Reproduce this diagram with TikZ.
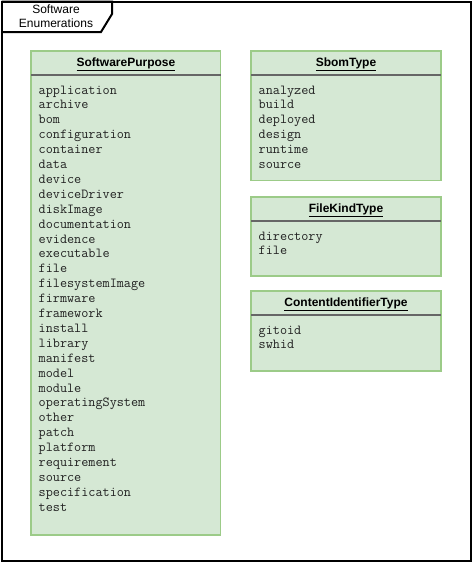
\documentclass[tikz,border=0pt]{standalone}
\usepackage{fontspec}
\setmainfont{Liberation Sans}
\definecolor{enumfill}{HTML}{D5E8D4}
\definecolor{enumline}{HTML}{9CCB88}
\definecolor{sepline}{HTML}{666666}
\definecolor{itemtext}{HTML}{222222}
\begin{document}
\begin{tikzpicture}[x=1pt,y=-1pt,
  frame/.style={draw=black,line width=2pt},
  enumbox/.style={draw=enumline,fill=enumfill,line width=1.2pt},
  sep/.style={draw=sepline,line width=1.4pt},
  title/.style={font=\fontsize{12}{14}\selectfont\bfseries,anchor=base,inner sep=0pt},
  item/.style={font=\fontsize{13.8}{14}\ttfamily,text=itemtext,anchor=base west,inner sep=0pt},
  tabtext/.style={font=\fontsize{12}{14}\selectfont,anchor=base,inner sep=0pt}]
\useasboundingbox (0,0) rectangle (473,563);
% package frame with its name tab
\draw[frame] (1.5,1.5) rectangle (470.5,561);
\draw[frame,line join=miter] (1.5,1.5) -- (112,1.5) -- (112,14) -- (101,32) -- (1.5,32);
\node[tabtext] (tab1) at (56,13) {Software};
\node[tabtext] (tab2) at (56,27.5) {Enumerations};

% SoftwarePurpose
\draw[enumbox] (31,51) rectangle (220.5,535);
\draw[sep] (31,75) -- (220.5,75);
\node[title] (sp) at (126,66.5) {\underline{SoftwarePurpose}};
\foreach \t [count=\i from 0] in {application,archive,bom,configuration,container,data,device,deviceDriver,diskImage,documentation,evidence,executable,file,filesystemImage,firmware,framework,install,library,manifest,model,module,operatingSystem,other,patch,platform,requirement,source,specification,test}
  \node[item] (sp\i) at (38.5,94+14.9*\i) {\t};

% SbomType
\draw[enumbox] (251,51) rectangle (441,180.5);
\draw[sep] (251,75) -- (441,75);
\node[title] (sb) at (346,66.5) {\underline{SbomType}};
\foreach \t [count=\i from 0] in {analyzed,build,deployed,design,runtime,source}
  \node[item] (sb\i) at (258.5,94+14.9*\i) {\t};

% FileKindType
\draw[enumbox] (251,197) rectangle (441,276);
\draw[sep] (251,221) -- (441,221);
\node[title] (fk) at (346,212.5) {\underline{FileKindType}};
\foreach \t [count=\i from 0] in {directory,file}
  \node[item] (fk\i) at (258.5,240+14.9*\i) {\t};

% ContentIdentifierType
\draw[enumbox] (251,291) rectangle (441,371);
\draw[sep] (251,315) -- (441,315);
\node[title] (ci) at (346,306.5) {\underline{ContentIdentifierType}};
\foreach \t [count=\i from 0] in {gitoid,swhid}
  \node[item] (ci\i) at (258.5,334+14.9*\i) {\t};
\end{tikzpicture}
\end{document}
